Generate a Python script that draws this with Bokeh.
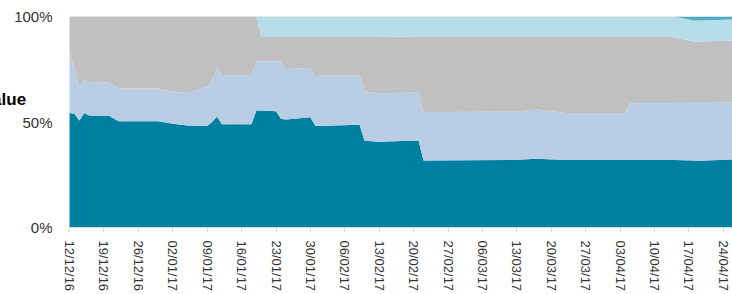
from datetime import datetime, timedelta
from bokeh.plotting import figure
from bokeh.models import (ColumnDataSource, Range1d, FixedTicker, DatetimeTickFormatter,
                          PrintfTickFormatter, Span)
from bokeh.embed import file_html
from bokeh.resources import INLINE

# ---- data ----
start = datetime(2016, 12, 12)
day_offsets = [0, 1, 2, 3, 4, 8, 10, 18, 21, 24, 28, 29, 30, 31, 37, 38, 39, 42, 43, 44,
               49, 50, 59, 60, 63, 71, 72, 90, 95, 101, 113, 114, 122, 123, 127, 128, 135]

series_a = [54.3, 53.9, 50.7, 54.3, 53.1, 53.0, 50.4, 50.4, 49.2, 48.4, 48.1, 50.0, 52.6, 48.9,
            48.9, 55.4, 55.4, 55.1, 51.5, 51.2, 52.3, 48.1, 48.7, 41.1, 40.6, 41.2, 31.7, 32.0,
            32.6, 32.0, 32.0, 32.0, 32.0, 32.0, 31.8, 31.6, 32.2]
series_b = [29.2, 21.8, 15.7, 16.0, 15.9, 15.7, 15.5, 15.5, 15.1, 15.3, 18.7, 19.5, 23.1, 23.4,
            23.4, 23.4, 23.4, 23.7, 27.3, 23.8, 23.4, 23.7, 23.6, 23.4, 23.0, 22.8, 23.0, 22.9,
            23.3, 22.3, 22.3, 26.9, 27.0, 27.0, 27.3, 27.5, 27.1]
series_c = [16.5, 24.3, 33.6, 29.7, 31.0, 31.3, 34.1, 34.1, 35.7, 36.3, 33.2, 30.5, 24.3, 27.7,
            27.7, 21.2, 11.5, 11.5, 11.5, 15.3, 14.6, 18.5, 18.0, 25.8, 26.7, 26.6, 35.9, 35.7,
            34.7, 36.3, 36.3, 31.7, 31.6, 31.0, 29.1, 29.1, 29.2]
series_d = [0, 0, 0, 0, 0, 0, 0, 0, 0, 0, 0, 0, 0, 0, 0, 0, 9.7, 9.7, 9.7, 9.7, 9.7, 9.7, 9.7,
            9.7, 9.7, 9.4, 9.4, 9.4, 9.4, 9.4, 9.4, 9.4, 9.4, 10.0, 9.9, 9.9, 10.1]
series_e = [0, 0, 0, 0, 0, 0, 0, 0, 0, 0, 0, 0, 0, 0, 0, 0, 0, 0, 0, 0, 0, 0, 0, 0, 0, 0, 0,
            0, 0, 0, 0, 0, 0, 0, 1.9, 1.9, 1.4]

tick_labels = ["12/12/16", "19/12/16", "26/12/16", "02/01/17", "09/01/17", "16/01/17",
               "23/01/17", "30/01/17", "06/02/17", "13/02/17", "20/02/17", "27/02/17",
               "06/03/17", "13/03/17", "20/03/17", "27/03/17", "03/04/17", "10/04/17",
               "17/04/17", "24/04/17"]
y_ticks = [0, 50, 100]
y_label = "Value"

colors = ["#0080A0", "#B9CDE5", "#C0C0C0", "#B7DEE8", "#4BACC6"]

# ---- build ----
epoch = datetime(1970, 1, 1)
def ms(d):
    return (d - epoch).total_seconds() * 1000.0

dates = [start + timedelta(days=d) for d in day_offsets]
source = ColumnDataSource(dict(date=dates, a=series_a, b=series_b, c=series_c,
                               d=series_d, e=series_e))

x_start = ms(start - timedelta(hours=5))
x_end = ms(start + timedelta(days=134.85))

# canvas is shifted left so that the y-axis title is cut at the page edge
p = figure(width=754, height=294, x_axis_type="datetime",
           x_range=Range1d(x_start, x_end), y_range=Range1d(0, 100),
           output_backend="svg", toolbar_location=None,
           min_border_left=90, min_border_right=0, min_border_top=16, min_border_bottom=64,
           margin=(0, 0, 0, -22))

p.varea_stack(stackers=["a", "b", "c", "d", "e"], x="date", color=colors, source=source)

p.grid.visible = False
p.outline_line_color = None
p.background_fill_color = "white"
p.border_fill_color = "white"

p.add_layout(Span(location=100, dimension="width", line_color="#D9D9D9", line_width=1,
                  level="overlay"))

tick_ms = [ms(start + timedelta(weeks=i)) for i in range(len(tick_labels))]
xa = p.xaxis[0]
xa.ticker = FixedTicker(ticks=tick_ms)
xa.formatter = DatetimeTickFormatter(days="%d/%m/%y", months="%d/%m/%y", years="%d/%m/%y",
                                     hours="%d/%m/%y", minutes="%d/%m/%y")
xa.major_label_overrides = {t: lab for t, lab in zip(tick_ms, tick_labels)}
xa.major_label_orientation = "vertical"
xa.major_label_text_font = "Liberation Sans"
xa.major_label_text_font_size = "13px"
xa.major_label_text_color = "#333333"
xa.axis_line_color = "#D9D9D9"
xa.major_tick_line_color = "#D9D9D9"
xa.major_tick_out = 5
xa.major_tick_in = 0
xa.minor_tick_line_color = None
xa.major_label_standoff = 8

ya = p.yaxis[0]
ya.ticker = FixedTicker(ticks=y_ticks)
ya.formatter = PrintfTickFormatter(format="%d%%")
ya.major_label_text_font = "Liberation Sans"
ya.major_label_text_font_size = "15px"
ya.major_label_text_color = "#333333"
ya.axis_line_color = None
ya.major_tick_line_color = None
ya.minor_tick_line_color = None
ya.major_tick_out = 0
ya.major_tick_in = 0
ya.major_label_standoff = 16

ya.axis_label = y_label + "\n \n "
ya.axis_label_orientation = "horizontal"
ya.axis_label_text_font = "Liberation Sans"
ya.axis_label_text_font_size = "17px"
ya.axis_label_text_font_style = "bold"
ya.axis_label_text_color = "#000000"
ya.axis_label_standoff = -15

open("out.html", "w").write(file_html(p, INLINE))
